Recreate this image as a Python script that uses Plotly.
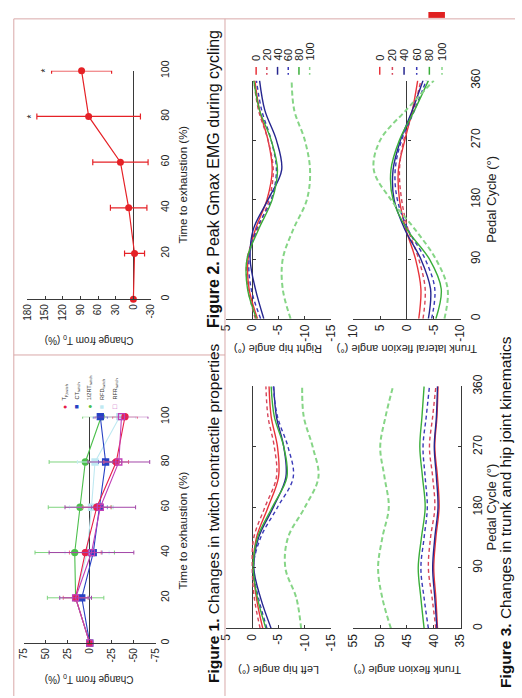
import plotly.graph_objects as go

W, H = 522, 698
FONT = "Liberation Sans, Arial, sans-serif"

# ---------------- data ----------------
# Figure 2: peak Gmax EMG
time_pct = [0, 20, 40, 60, 80, 100]
emg_change = [0, -2, 8, 22, 76, 88]
emg_err = [0, 17, 31, 47, 88, 51]
emg_sig = [False, False, False, False, True, True]

# Figure 1: twitch contractile properties
tw_names = ["T<sub>P,twitch</sub>", "CT<sub>twitch</sub>", "1/2RT<sub>twitch</sub>",
            "RFD<sub>twitch</sub>", "RFR<sub>twitch</sub>"]
tp_twitch = [0, 16, 5, -8, -30, -40]
tp_err = [0, 14, 18, 16, 14, 14]
ct_twitch = [0, 9, -4, -11, -18, -12]
ct_err = [0, 8, 10, 9, 8, 8]
hrt_twitch = [0, 16, 17, 11, 5, -13]
hrt_err = [0, 32, 45, 36, 41, 21]
rfd_twitch = [0, 16, 3, -2, -6, -34]
rfd_err = [0, 18, 25, 25, 20, 18]
rfr_twitch = [0, 16, -2, -12, -33, -36]
rfr_err = [0, 18, 48, 40, 35, 30]

# Figure 3: kinematics over the pedal cycle
pedal_deg = [0, 45, 90, 135, 180, 225, 270, 315, 360]
tte_levels = ["0", "20", "40", "60", "80", "100"]
right_hip = [
    [-1.0, 0.6, 0.8, -0.6, -2.8, -3.8, -3.0, -1.4, -0.5],
    [-0.6, 0.8, 1.0, -1.0, -3.2, -4.0, -3.0, -1.2, -0.3],
    [-2.2, -0.6, 0.4, -0.2, -3.0, -5.6, -4.6, -2.4, -1.4],
    [-1.6, 0.2, 0.6, -0.8, -3.6, -4.6, -3.6, -1.8, -0.8],
    [-0.8, 0.9, 1.0, -1.2, -3.8, -4.8, -3.6, -1.4, -0.3],
    [-7.3, -5.8, -5.8, -7.8, -10.4, -11.0, -10.0, -8.0, -7.5],
]
left_hip = [
    [-2.0, -0.8, -0.2, -0.8, -3.0, -5.0, -4.8, -3.6, -3.2],
    [-1.5, -0.4, 0.0, -0.3, -2.4, -4.6, -4.2, -3.0, -2.6],
    [-3.6, -1.6, -0.3, -1.2, -4.0, -6.4, -6.0, -4.6, -4.1],
    [-2.8, -1.2, -0.2, -1.6, -4.8, -7.8, -6.8, -4.8, -4.0],
    [-2.6, -1.0, -0.2, -1.0, -3.8, -6.6, -6.0, -4.2, -3.6],
    [-9.3, -8.4, -6.3, -6.8, -10.0, -12.6, -11.5, -9.8, -9.5],
]
trunk_lat = [
    [-2.2, -2.6, -1.6, 0.2, 1.4, 1.6, 0.4, -1.0, -2.0],
    [-3.0, -3.4, -2.2, -0.2, 1.0, 1.4, 0.6, -1.2, -2.6],
    [-4.0, -4.4, -2.6, 0.4, 2.4, 2.6, 1.2, -1.0, -3.0],
    [-4.6, -5.2, -3.4, -0.2, 1.8, 2.2, 1.0, -1.4, -3.6],
    [-5.4, -6.4, -4.2, 0.0, 2.6, 3.0, 1.4, -1.4, -4.0],
    [-7.0, -7.6, -5.4, -1.5, 3.0, 6.2, 5.0, 0.2, -5.0],
]
trunk_flex = [
    [39.3, 39.6, 40.0, 39.6, 39.0, 39.3, 39.8, 39.4, 39.2],
    [39.6, 40.3, 41.0, 40.6, 39.8, 40.2, 40.8, 40.2, 39.6],
    [39.4, 39.8, 40.2, 39.8, 39.2, 39.5, 39.9, 39.5, 39.3],
    [41.0, 41.8, 42.4, 41.8, 41.2, 41.6, 42.0, 41.4, 40.8],
    [41.8, 42.4, 42.9, 42.3, 41.6, 42.1, 42.6, 42.2, 41.8],
    [48.0, 49.6, 50.4, 49.6, 48.4, 49.2, 50.0, 49.0, 47.6],
]

# ---------------- styles ----------------
lvl_color = ["#e8333a", "#d6455a", "#26268f", "#3a3ab8", "#3aae3a", "#86d586"]
lvl_dash = ["solid", "4px,3px", "solid", "4px,3px", "solid", "5px,3px"]
lvl_width = [1.4, 1.4, 1.4, 1.4, 1.4, 2.0]

def px2x(px):
    return px / W

def px2y(py):
    return 1 - py / H

def dom_x(a, b):
    return [a / W, b / W]

def dom_y(top, bottom):
    return [1 - bottom / H, 1 - top / H]

fig = go.Figure()
AX = "#3a3a3a"

def value_axis(xpx, vr, tickvals, fs, yname, zero=False):
    return dict(domain=dom_x(*xpx), range=list(vr), anchor=yname,
                showline=True, linecolor=AX, linewidth=1, ticks="inside", ticklen=3,
                tickcolor=AX, tickangle=-90, tickvals=tickvals,
                ticktext=[str(v) for v in tickvals],
                tickfont=dict(size=fs, color="#222", family=FONT),
                showgrid=False, zeroline=zero, zerolinecolor=AX, zerolinewidth=1)

def time_axis(ypx, tr, tickvals, fs, xname, labels=True, standoff=2, line=False):
    return dict(domain=dom_y(*ypx), range=list(tr), anchor=xname, side="right",
                showline=line, linecolor=AX, linewidth=1,
                ticks="inside" if line else "", ticklen=3, tickcolor=AX,
                showticklabels=labels, tickangle=-90, tickvals=tickvals,
                ticktext=[str(v) for v in tickvals], ticklabelstandoff=standoff,
                tickfont=dict(size=fs, color="#222", family=FONT),
                showgrid=False, zeroline=False)

# panel geometry (image pixels)
P = {
    "A": dict(xpx=(21, 148), ypx=(60, 293), vr=(180, -30), tr=(0, 100)),
    "B": dict(xpx=(17, 153), ypx=(413, 644), vr=(75, -75), tr=(0, 100)),
    "C": dict(xpx=(225, 333), ypx=(70, 313), vr=(5, -15), tr=(0, 360)),
    "D": dict(xpx=(356, 466), ypx=(70, 313), vr=(10, -10), tr=(0, 360)),
    "E": dict(xpx=(225, 333), ypx=(382, 629), vr=(5, -15), tr=(0, 360)),
    "F": dict(xpx=(356, 466), ypx=(382, 629), vr=(55, 35), tr=(0, 360)),
}

lay = {}
lay["xaxis"] = value_axis(P["A"]["xpx"], P["A"]["vr"], [-30, 0, 30, 60, 90, 120, 150, 180], 10, "y", zero=True)
lay["yaxis"] = time_axis(P["A"]["ypx"], P["A"]["tr"], time_pct, 10.5, "x", standoff=6)
lay["xaxis2"] = value_axis(P["B"]["xpx"], P["B"]["vr"], [-75, -50, -25, 0, 25, 50, 75], 10, "y2", zero=True)
lay["yaxis2"] = time_axis(P["B"]["ypx"], P["B"]["tr"], time_pct, 10.5, "x2", standoff=2)
lay["xaxis3"] = value_axis(P["C"]["xpx"], P["C"]["vr"], [-15, -10, -5, 0, 5], 12, "y3", zero=True)
lay["yaxis3"] = time_axis(P["C"]["ypx"], P["C"]["tr"], [0, 90, 180, 270, 360], 12, "x3", labels=False)
lay["xaxis4"] = value_axis(P["D"]["xpx"], P["D"]["vr"], [-10, -5, 0, 5, 10], 12, "y4", zero=True)
lay["yaxis4"] = time_axis(P["D"]["ypx"], P["D"]["tr"], [0, 90, 180, 270, 360], 12, "x4", standoff=6)
lay["xaxis5"] = value_axis(P["E"]["xpx"], P["E"]["vr"], [-15, -10, -5, 0, 5], 12, "y5", zero=True)
lay["yaxis5"] = time_axis(P["E"]["ypx"], P["E"]["tr"], [0, 90, 180, 270, 360], 12, "x5", labels=False)
lay["xaxis6"] = value_axis(P["F"]["xpx"], P["F"]["vr"], [35, 40, 45, 50, 55], 12, "y6")
lay["yaxis6"] = time_axis(P["F"]["ypx"], P["F"]["tr"], [0, 90, 180, 270, 360], 12, "x6", standoff=6, line=True)

# ----- Figure 2 traces -----
fig.add_trace(go.Scatter(x=emg_change, y=time_pct, mode="lines+markers", xaxis="x", yaxis="y",
                         line=dict(color="#e52227", width=1.2),
                         marker=dict(color="#e52227", size=7),
                         error_x=dict(type="data", array=emg_err, color="#e52227", thickness=1.2, width=3),
                         cliponaxis=False, showlegend=False))

# ----- Figure 1 traces -----
tw_series = [
    (hrt_twitch, hrt_err, "#4cbf4c", "#7fd47f", "circle"),
    (rfd_twitch, rfd_err, "#bfe9f2", "#c9eef5", "square"),
    (ct_twitch, ct_err, "#2741c4", "#6f83d8", "square"),
    (tp_twitch, tp_err, "#e8204a", "#ee6f86", "circle"),
    (rfr_twitch, rfr_err, "#c03fb8", "#a346a8", "square-open"),
]
for vals, errs, c, ec, sym in tw_series:
    fig.add_trace(go.Scatter(x=vals, y=time_pct, mode="lines+markers", xaxis="x2", yaxis="y2",
                             line=dict(color=c, width=1.1),
                             marker=dict(color=c, size=6, symbol=sym, line=dict(color=c, width=1.3)),
                             error_x=dict(type="data", array=errs, color=ec, thickness=1, width=2),
                             cliponaxis=False, showlegend=False))

# ----- Figure 3 traces -----
for series, xa, ya in [(right_hip, "x3", "y3"), (trunk_lat, "x4", "y4"),
                       (left_hip, "x5", "y5"), (trunk_flex, "x6", "y6")]:
    for i, vals in enumerate(series):
        fig.add_trace(go.Scatter(x=vals, y=pedal_deg, mode="lines", xaxis=xa, yaxis=ya,
                                 line=dict(color=lvl_color[i], width=lvl_width[i], dash=lvl_dash[i],
                                           shape="spline", smoothing=1.0),
                                 showlegend=False, hoverinfo="skip"))

# zero-crossing pedal-cycle axes (tick marks on the zero line)
extra = 7
for key, xa, ya in [("C", "x3", "y3"), ("D", "x4", "y4"), ("E", "x5", "y5")]:
    p = P[key]
    vmax, vmin = p["vr"]
    d0, d1 = dom_x(*p["xpx"])
    pos = d0 + (d1 - d0) * (vmax - 0) / (vmax - vmin)
    lay["yaxis%d" % extra] = dict(overlaying=ya, anchor="free", position=pos, side="right",
                                  range=list(p["tr"]), showline=False, ticks="outside", ticklen=3,
                                  tickcolor=AX, tickvals=[90, 180, 270], showticklabels=False,
                                  showgrid=False, zeroline=False)
    fig.add_trace(go.Scatter(x=[None], y=[None], xaxis=xa, yaxis="y%d" % extra,
                             showlegend=False, hoverinfo="skip"))
    extra += 1

ann = []

def text(x, y, s, size, angle=0, color="#222", xa="center", ya="middle"):
    ann.append(dict(x=x, y=y, xref="paper", yref="paper", text=s, showarrow=False,
                    textangle=angle, xanchor=xa, yanchor=ya,
                    font=dict(size=size, color=color, family=FONT)))

# significance asterisks for Figure 2
for v, e, t, s in zip(emg_change, emg_err, time_pct, emg_sig):
    if s:
        ann.append(dict(x=v + e + 10, y=t, xref="x", yref="y", text="*", showarrow=False,
                        textangle=-90, font=dict(size=10, color="#222", family=FONT)))

# axis titles
text(px2x(181), px2y(176), "Time to exhaustion (%)", 11.5, -90)
text(px2x(84), px2y(334), "Change from T<sub>0</sub> (%)", 10, 180)
text(px2x(181), px2y(529), "Time to exhaustion (%)", 11.5, -90)
text(px2x(84), px2y(680), "Change from T<sub>0</sub> (%)", 10, 180)
text(px2x(279), px2y(344), "Right hip angle (°)", 11, 180)
text(px2x(279), px2y(672), "Left hip angle (°)", 11, 180)
text(px2x(411), px2y(344), "Trunk lateral flexion angle (°)", 11, 180)
text(px2x(411), px2y(672), "Trunk flexion angle (°)", 11, 180)
text(px2x(498), px2y(191), "Pedal Cycle (°)", 13, -90)
text(px2x(498), px2y(505), "Pedal Cycle (°)", 13, -90)

# captions
text(px2x(212), px2y(170), "<b>Figure 2.</b> Peak Gmax EMG during cycling", 16, -90, "#111")
text(px2x(212), px2y(511), "<b>Figure 1.</b> Changes in twitch contractile properties", 15.5, -90, "#111")
text(px2x(513), px2y(510), "<b>Figure 3.</b> Changes in trunk and hip joint kinematics", 15.5, -90, "#111")

# Figure 1 legend
leg_x = [59, 72, 85, 98, 111]
leg_sym = ["●", "■", "●", "■", "□"]
leg_col = ["#e8204a", "#2741c4", "#4cbf4c", "#bfe9f2", "#c03fb8"]
for lx, nm, sy, c in zip(leg_x, tw_names, leg_sym, leg_col):
    text(px2x(lx), px2y(403), sy, 7, -90, c)
    text(px2x(lx), px2y(398), nm, 5.5, -90, "#333", ya="bottom")

# Figure 3 legends (right hip and trunk lateral panels)
shapes = []
for xs in ([256, 267, 278, 289, 300, 311], [383, 396, 408, 421, 434, 447]):
    for i, lx in enumerate(xs):
        shapes.append(dict(type="line", xref="paper", yref="paper", x0=px2x(lx), x1=px2x(lx),
                           y0=px2y(56), y1=px2y(64),
                           line=dict(color=lvl_color[i], width=1.5,
                                     dash="dot" if lvl_dash[i] != "solid" else "solid")))
        text(px2x(lx), px2y(52), tte_levels[i], 11, -90, "#222", ya="bottom")

# poster frame lines and red tab
frame = "#d9a9a9"
shapes += [
    dict(type="line", xref="paper", yref="paper", x0=px2x(7), x1=1, y0=px2y(7), y1=px2y(7),
         line=dict(color=frame, width=1)),
    dict(type="line", xref="paper", yref="paper", x0=px2x(7), x1=px2x(7), y0=0, y1=px2y(7),
         line=dict(color=frame, width=1)),
    dict(type="line", xref="paper", yref="paper", x0=px2x(224), x1=px2x(224), y0=0, y1=px2y(7),
         line=dict(color=frame, width=1)),
    dict(type="line", xref="paper", yref="paper", x0=px2x(7), x1=px2x(224), y0=px2y(350), y1=px2y(350),
         line=dict(color=frame, width=1)),
    dict(type="rect", xref="paper", yref="paper", x0=px2x(433), x1=px2x(450), y0=px2y(6), y1=1,
         line=dict(width=0), fillcolor="#e02020"),
]

fig.update_layout(width=W, height=H, margin=dict(l=0, r=0, t=0, b=0),
                  paper_bgcolor="white", plot_bgcolor="rgba(0,0,0,0)",
                  annotations=ann, shapes=shapes, showlegend=False,
                  font=dict(family=FONT), **lay)

fig.write_html("out.html", config={"displayModeBar": False},
               post_script="document.body.style.margin='0px';document.body.style.overflow='hidden';")
